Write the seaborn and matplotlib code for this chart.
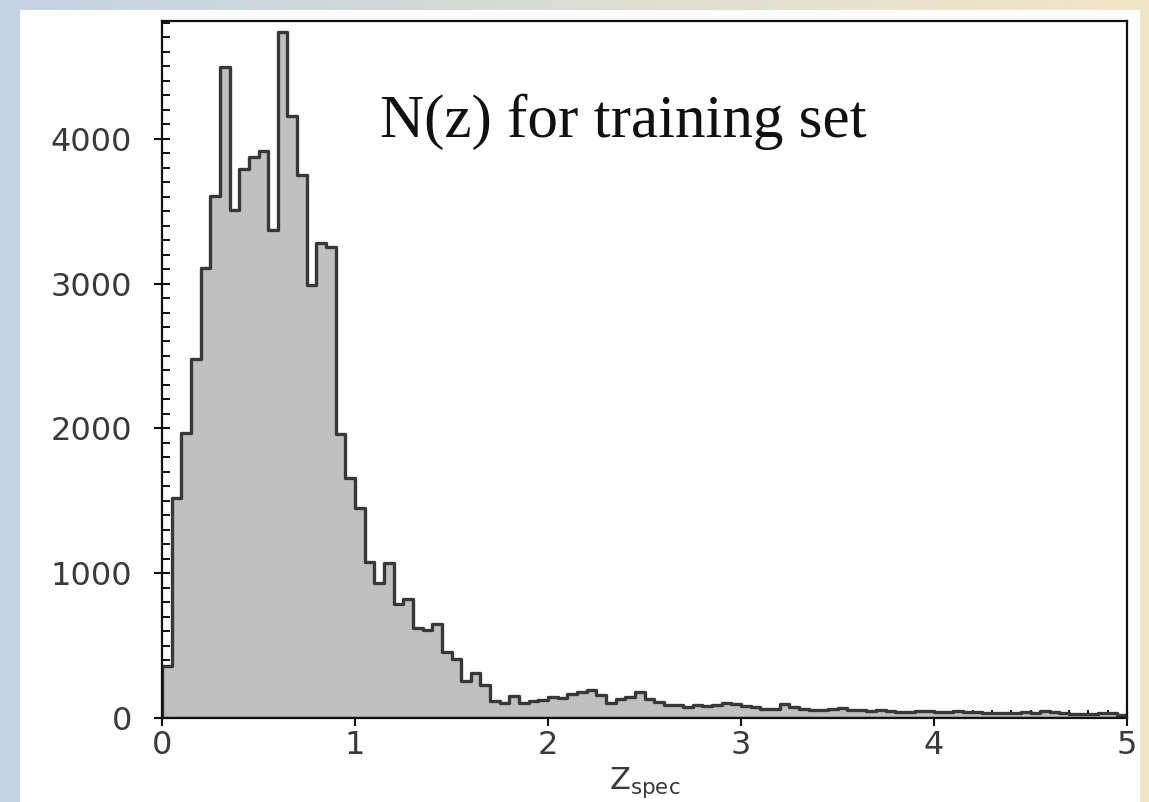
import numpy as np
import pandas as pd
import matplotlib
matplotlib.use("Agg")
import matplotlib.pyplot as plt
from matplotlib.patches import Rectangle
from matplotlib.ticker import MultipleLocator
import seaborn as sns

# Spectroscopic redshift histogram: 100 bins of width 0.05 over 0 <= z <= 5
bin_edges = [round(0.05 * i, 3) for i in range(101)]
counts = [
    360, 1517, 1966, 2477, 3104, 3603, 4492, 3508, 3792, 3873,
    3912, 3372, 4739, 4157, 3751, 2991, 3279, 3249, 1959, 1655,
    1448, 1075, 930, 1068, 787, 822, 619, 608, 649, 458,
    407, 255, 309, 228, 117, 106, 152, 101, 117, 124,
    145, 140, 165, 180, 195, 158, 105, 128, 145, 182,
    131, 113, 92, 90, 76, 90, 83, 92, 105, 98,
    83, 76, 60, 62, 95, 78, 62, 58, 55, 60,
    66, 57, 52, 50, 52, 46, 42, 44, 50, 45,
    40, 43, 48, 42, 38, 36, 35, 34, 36, 38,
    34, 46, 40, 36, 30, 26, 28, 32, 34, 22,
]
x_ticks = [0, 1, 2, 3, 4, 5]
y_ticks = [0, 1000, 2000, 3000, 4000]
title_text = "N(z) for training set"
x_label = r"Z$_{\mathrm{spec}}$"

edges_arr = np.array(bin_edges)
bin_centers = (edges_arr[:-1] + edges_arr[1:]) / 2
df = pd.DataFrame({"z": bin_centers, "n": counts})

sns.set_style("ticks")
plt.rcParams["font.family"] = ["DejaVu Sans"]
plt.rcParams["mathtext.fontset"] = "dejavusans"

W, H = 1149, 802
fig = plt.figure(figsize=(W / 100, H / 100), dpi=100)

# soft blue-to-beige backdrop with a white card on top
bg = fig.add_axes([0, 0, 1, 1], zorder=-10)
grad = np.linspace(0, 1, 256)[None, :]
left_c = np.array([196, 210, 226]) / 255
right_c = np.array([242, 231, 200]) / 255
img = left_c[None, None, :] * (1 - grad[..., None]) + right_c[None, None, :] * grad[..., None]
bg.imshow(img, aspect="auto", extent=[0, 1, 0, 1], interpolation="bicubic")
bg.set_xlim(0, 1)
bg.set_ylim(0, 1)
bg.axis("off")
fig.patches.append(Rectangle((20 / W, 0), (1140 - 20) / W, (H - 10) / H,
                             transform=fig.transFigure, facecolor="white",
                             edgecolor="none", zorder=-5))

ax = fig.add_axes([162 / W, (H - 718) / H, (1127 - 162) / W, (718 - 21) / H])
ax.set_facecolor("white")

sns.histplot(data=df, x="z", weights="n", bins=bin_edges, element="step",
             fill=True, color="#c0c0c0", edgecolor="#383838", linewidth=2.4,
             alpha=1.0, ax=ax)

ax.set_xlim(0, 5)
ax.set_ylim(0, 4813)
ax.set_xticks(x_ticks)
ax.set_yticks(y_ticks)
ax.xaxis.set_minor_locator(MultipleLocator(0.1))
ax.yaxis.set_minor_locator(MultipleLocator(100))

for side in ["left", "right", "top", "bottom"]:
    ax.spines[side].set_visible(True)
    ax.spines[side].set_linewidth(1.6)
    ax.spines[side].set_color("#111111")

ax.tick_params(axis="both", which="major", direction="inout", length=11,
               width=1.5, color="#111111", labelsize=23, labelcolor="#3a3a3a")
ax.tick_params(axis="both", which="minor", direction="in", length=6,
               width=1.4, color="#111111")
ax.tick_params(axis="y", which="major", pad=16)
ax.tick_params(axis="x", which="major", pad=3)

ax.set_ylabel("")
ax.set_xlabel(x_label, fontsize=22, color="#3a3a3a", labelpad=3)

ax.text(0.226, 0.834, title_text, transform=ax.transAxes,
        fontsize=44, family=["Liberation Serif", "DejaVu Serif"],
        color="#111111", ha="left", va="baseline")

fig.savefig("out.png", dpi=100)
